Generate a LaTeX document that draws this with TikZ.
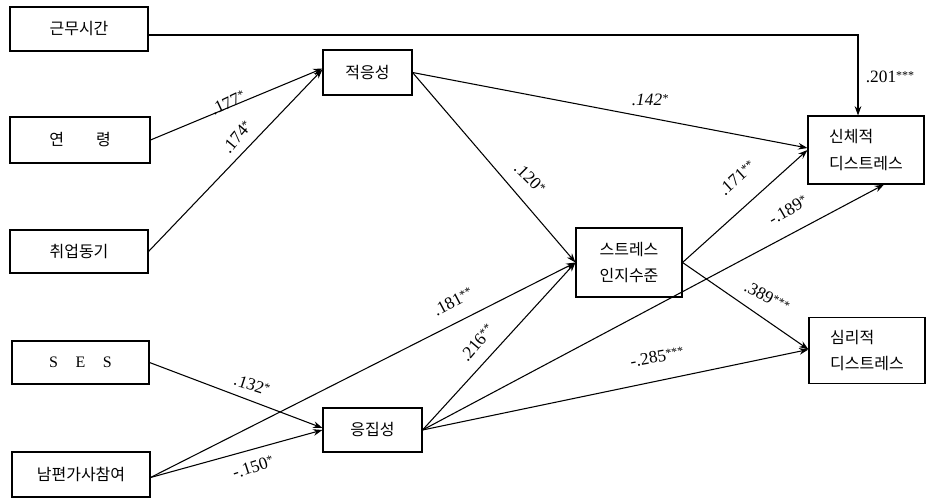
\documentclass[tikz,border=0pt]{standalone}
\usepackage{fontspec}
\setmainfont{Liberation Serif}
\newfontfamily\kr{Noto Sans CJK KR}
\usetikzlibrary{arrows.meta,calc}
\newcommand\sg[1]{\raisebox{2.5pt}{\fontsize{9}{9}\selectfont #1}}
\begin{document}
\begin{tikzpicture}[x=0.75pt,y=-0.75pt,
 box/.style={draw, line width=0.8pt, inner sep=0pt, font=\kr\fontsize{12}{20}\selectfont, align=center},
 box2/.style={box, align=left},
 conn/.style={line width=0.8pt, -{Stealth[length=7pt,width=5pt]}},
 lbl/.style={font=\fontsize{13}{13}\selectfont, inner sep=0pt}]
\useasboundingbox (0,0) rectangle (928,498);

\node[box, minimum width=103.5pt, minimum height=33pt] (kmsg) at (79,29) {근무시간};
\node[box, minimum width=105pt, minimum height=34.5pt] (age) at (80,140) {연\hspace{2em}령};
\node[box, minimum width=103.5pt, minimum height=32.25pt] (motive) at (79,251.5) {취업동기};
\node[box, minimum width=102.75pt, minimum height=32.25pt, font=\fontsize{12}{12}\selectfont] (ses) at (80.5,362.5) {S\hspace{1.1em}E\hspace{1.1em}S};
\node[box, minimum width=103.5pt, minimum height=33.75pt] (husb) at (81,474.5) {남편가사참여};
\node[box, minimum width=66.75pt, minimum height=33.75pt] (adapt) at (367.5,72.5) {적응성};
\node[box, minimum width=74.25pt, minimum height=33pt] (cohes) at (372.5,430) {응집성};
\node[box2, minimum width=79.5pt, minimum height=51.75pt] (stress) at (629,262.5) {스트레스\\인지수준};
\node[box2, minimum width=87pt, minimum height=51pt] (phys) at (866,150) {신체적\\디스트레스};
\node[box2, minimum width=87pt, minimum height=49.5pt] (psych) at (867,350.5) {심리적\\디스트레스};

\draw[conn] ($(kmsg.east)+(0,6)$) -| ($(phys.north)+(-8,0)$);
\draw[conn] (age.east) -- ($(adapt.west)+(0,-4)$);
\draw[conn] (motive.east) -- ($(adapt.west)+(0,-3)$);
\draw[conn] (adapt.east) -- ($(phys.west)+(0,-2)$);
\draw[conn] (adapt.east) -- (stress.west);
\draw[conn] (stress.east) -- (phys.west);
\draw[conn] (stress.east) -- ($(psych.west)+(0,-1)$);
\draw[conn] (ses.east) -- ($(cohes.west)+(0,-2)$);
\draw[conn] ($(husb.east)+(0,3)$) -- (cohes.west);
\draw[conn] ($(husb.east)+(0,3)$) -- (stress.west);
\draw[conn] (cohes.east) -- (stress.west);
\draw[conn] (cohes.east) -- ($(phys.south)+(18,0)$);
\draw[conn] (cohes.east) -- ($(psych.west)+(0,-1)$);

\node[lbl] (l201) at (890,77) {.201\sg{***}};
\node[lbl, rotate=25] (l177) at (228,103) {.177\sg{*}};
\node[lbl, rotate=50] (l174) at (237,137) {.174\sg{*}};
\node[lbl] (l142) at (650,100) {\textit{.142\sg{*}}};
\node[lbl, rotate=-45] (l120) at (530,178) {.120\sg{*}};
\node[lbl, rotate=42] (l171) at (737,178) {.171\sg{**}};
\node[lbl, rotate=30] (l189) at (788,210) {-.189\sg{*}};
\node[lbl, rotate=-28] (l389) at (767,297) {.389\sg{***}};
\node[lbl, rotate=28] (l181) at (453,302) {.181\sg{**}};
\node[lbl, rotate=50] (l216) at (477,343) {.216\sg{**}};
\node[lbl, rotate=-18] (l132) at (252,385) {.132\sg{*}};
\node[lbl, rotate=18] (l150) at (253,467) {-.150\sg{*}};
\node[lbl, rotate=10] (l285) at (657,357) {-.285\sg{***}};
\end{tikzpicture}
\end{document}
